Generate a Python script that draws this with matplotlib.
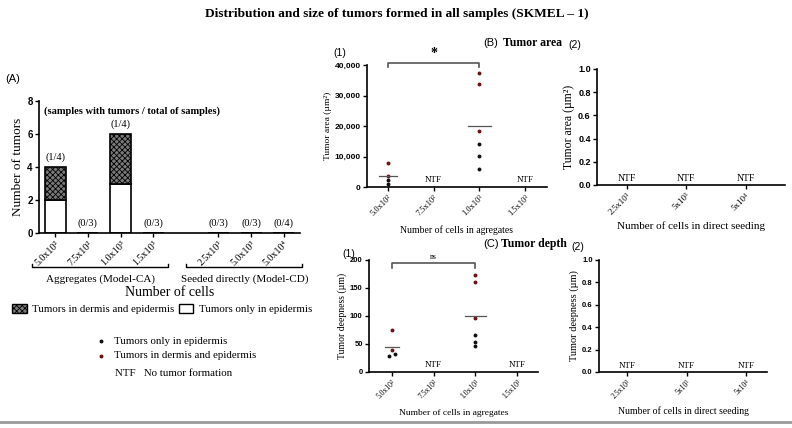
import numpy as np
import matplotlib
matplotlib.use("Agg")
import matplotlib.pyplot as plt
from matplotlib.patches import Rectangle
from matplotlib.lines import Line2D
from matplotlib.transforms import Affine2D

plt.rcParams['font.family'] = ['Liberation Serif', 'DejaVu Serif']
plt.rcParams['hatch.linewidth'] = 0.6

W, H = 792, 428

# ---------------- data ----------------
a_categories = ['5.0x10²', '7.5x10²', '1.0x10³', '1.5x10³', '2.5x10³', '5.0x10³', '5.0x10⁴']
a_epidermis_only = [2, 0, 3, 0, 0, 0, 0]
a_dermis_epidermis = [2, 0, 3, 0, 0, 0, 0]
a_ratio_labels = ['(1/4)', '(0/3)', '(1/4)', '(0/3)', '(0/3)', '(0/3)', '(0/4)']

agg_categories = ['5.0x10²', '7.5x10²', '1.0x10³', '1.5x10³']
direct_categories = ['2.5x10³', '5x10³', '5x10⁴']

# tumor area (um^2), aggregates
area_500_dermis = [7900, 3600]
area_500_epi = [2200, 900]
area_1000_dermis = [37300, 33800, 18400]
area_1000_epi = [14000, 10300, 6000]

# tumor depth (um), aggregates
depth_500_dermis = [75, 40]
depth_500_epi = [29, 33]
depth_1000_dermis = [174, 160, 97]
depth_1000_epi = [66, 54, 46]

agg_ntf = [False, True, False, True]

RED = '#6b1414'
BLACK = '#111111'
MS = 1.8

fig = plt.figure(figsize=(W / 100, H / 100), dpi=100)
px = Affine2D().scale(1 / W, -1 / H).translate(0, 1) + fig.transFigure


def rect(l, t, r, b):
    return [l / W, 1 - b / H, (r - l) / W, (b - t) / H]


def style_axes(ax, ytick_size=6):
    for s in ['top', 'right']:
        ax.spines[s].set_visible(False)
    for s in ['left', 'bottom']:
        ax.spines[s].set_linewidth(1.2)
    ax.tick_params(direction='out', length=3, width=1.0, pad=1.5)
    for lab in ax.get_yticklabels():
        lab.set_fontfamily(['Liberation Sans', 'DejaVu Sans'])
        lab.set_fontweight('bold')
        lab.set_fontsize(ytick_size)


# ---------------- Title ----------------
fig.text(397 / W, 1 - 14 / H, 'Distribution and size of tumors formed in all samples (SKMEL – 1)',
         ha='center', va='center', fontsize=9.6, fontweight='bold')

# ---------------- Panel A ----------------
axA = fig.add_axes(rect(39, 101, 300, 233))
a_pos = [0, 1, 2, 3, 5, 6, 7]
axA.bar(a_pos, a_epidermis_only, width=0.64, color='white', edgecolor='black', linewidth=1.2)
axA.bar(a_pos, a_dermis_epidermis, width=0.64, bottom=a_epidermis_only, color='#7a7a7a',
        edgecolor='black', hatch='xxxxxx', linewidth=1.2)
for p, e, d, lab in zip(a_pos, a_epidermis_only, a_dermis_epidermis, a_ratio_labels):
    axA.text(p, e + d + 0.3, lab, ha='center', va='bottom', fontsize=7.5)
axA.set_xlim(-0.5, 7.5)
axA.set_ylim(0, 8)
axA.set_yticks([0, 2, 4, 6, 8])
axA.set_xticks(a_pos)
axA.set_xticklabels(a_categories, rotation=45, ha='right', rotation_mode='anchor', fontsize=7.2)
axA.set_ylabel('Number of tumors', fontsize=9.5, labelpad=2)
style_axes(axA, 7)
axA.text(0.02, 0.96, '(samples with tumors / total of samples)', transform=axA.transAxes,
         ha='left', va='top', fontsize=7.5, fontweight='bold')
fig.text(5 / W, 1 - 79 / H, '(A)', ha='left', va='center', fontsize=8,
         family=['Liberation Sans', 'DejaVu Sans'])

# brackets under panel A
for (x0, x1, lab, xc) in [(32, 168, 'Aggregates (Model-CA)', 100),
                          (186, 302, 'Seeded directly (Model-CD)', 245)]:
    fig.add_artist(Line2D([x0, x0, x1, x1], [264, 267, 267, 264], transform=px,
                          color='black', lw=1.0))
    fig.text(xc / W, 1 - 279 / H, lab, ha='center', va='center', fontsize=8)
fig.text(170 / W, 1 - 293 / H, 'Number of cells', ha='center', va='center', fontsize=10)

# legend 1
fig.add_artist(Rectangle((12, 304), 15, 9, transform=px, facecolor='#7a7a7a',
                         edgecolor='black', hatch='xxxxxx', lw=1.0))
fig.text(32 / W, 1 - 309 / H, 'Tumors in dermis and epidermis', ha='left', va='center', fontsize=7.8)
fig.add_artist(Rectangle((179, 304), 14, 9, transform=px, facecolor='white',
                         edgecolor='black', lw=1.0))
fig.text(199 / W, 1 - 309 / H, 'Tumors only in epidermis', ha='left', va='center', fontsize=7.8)

# legend 2
fig.add_artist(Line2D([101], [341], transform=px, marker='o', ms=MS, color=BLACK, ls='none'))
fig.text(114 / W, 1 - 341 / H, 'Tumors only in epidermis', ha='left', va='center', fontsize=7.8)
fig.add_artist(Line2D([101], [356], transform=px, marker='o', ms=MS, color=RED, ls='none'))
fig.text(114 / W, 1 - 356 / H, 'Tumors in dermis and epidermis', ha='left', va='center', fontsize=7.8)
fig.text(115 / W, 1 - 373 / H, 'NTF   No tumor formation', ha='left', va='center', fontsize=7.8)


def scatter_panel(ax, groups, ymax, yticks, yfmt, ylabel, mean_hw, offsets_epi=None):
    for gi, (derm, epi) in groups.items():
        ax.plot([gi] * len(derm), derm, 'o', ms=MS, color=RED, ls='none', clip_on=False)
        if offsets_epi is not None and gi in offsets_epi:
            xs = [gi + o for o in offsets_epi[gi]]
        else:
            xs = [gi] * len(epi)
        ax.plot(xs, epi, 'o', ms=MS, color=BLACK, ls='none', clip_on=False)
        m = np.mean(list(derm) + list(epi))
        ax.plot([gi - mean_hw[gi], gi + mean_hw[gi]], [m, m], color='#555555', lw=0.9)
    ax.set_ylim(0, ymax)
    ax.set_yticks(yticks)
    ax.set_yticklabels([yfmt(v) for v in yticks])
    ax.set_ylabel(ylabel, fontsize=6.8, labelpad=2)


# ---------------- Panel B1 ----------------
axB1 = fig.add_axes(rect(367, 65, 547, 187))
scatter_panel(axB1, {0: (area_500_dermis, area_500_epi), 2: (area_1000_dermis, area_1000_epi)},
              40000, [0, 10000, 20000, 30000, 40000], lambda v: f'{v:,}',
              'Tumor area (µm²)', {0: 0.2, 2: 0.25})
axB1.set_xlim(-0.46, 3.48)
axB1.set_xticks(range(len(agg_categories)))
axB1.set_xticklabels(agg_categories, rotation=45, ha='right', rotation_mode='anchor', fontsize=6)
for i, n in enumerate(agg_ntf):
    if n:
        axB1.text(i, 900, 'NTF', ha='center', va='bottom', fontsize=6.5)
style_axes(axB1, 6)
axB1.set_xlabel('Number of cells in agregates', fontsize=7, labelpad=6)
axB1.plot([0, 0, 2, 2], [39200, 40800, 40800, 39200], color='#555555', lw=1.2, clip_on=False)
axB1.text(1, 41800, '*', ha='center', va='bottom', fontsize=10, fontweight='bold')
fig.text(333 / W, 1 - 53 / H, '(1)', ha='left', va='center', fontsize=7.5,
         family=['Liberation Sans', 'DejaVu Sans'])
fig.text(483 / W, 1 - 43 / H, '(B)', ha='left', va='center', fontsize=8,
         family=['Liberation Sans', 'DejaVu Sans'])
fig.text(503 / W, 1 - 43 / H, 'Tumor area', ha='left', va='center', fontsize=8.5, fontweight='bold')

# ---------------- Panel B2 ----------------
axB2 = fig.add_axes(rect(597, 69, 785, 185))
axB2.set_xlim(-0.5, 2.66)
axB2.set_ylim(0, 1)
axB2.set_yticks([0, 0.2, 0.4, 0.6, 0.8, 1.0])
axB2.set_yticklabels([f'{v:.1f}' for v in [0, 0.2, 0.4, 0.6, 0.8, 1.0]])
axB2.set_xticks(range(len(direct_categories)))
axB2.set_xticklabels(direct_categories, rotation=45, ha='right', rotation_mode='anchor', fontsize=6.5)
for i in range(len(direct_categories)):
    axB2.text(i, 0.02, 'NTF', ha='center', va='bottom', fontsize=7)
style_axes(axB2, 6.5)
axB2.set_ylabel('Tumor area (µm²)', fontsize=8.5, labelpad=2)
axB2.set_xlabel('Number of cells in direct seeding', fontsize=8, labelpad=4)
fig.text(568 / W, 1 - 45 / H, '(2)', ha='left', va='center', fontsize=7.5,
         family=['Liberation Sans', 'DejaVu Sans'])

# ---------------- Panel C1 ----------------
axC1 = fig.add_axes(rect(369, 260, 538, 372))
scatter_panel(axC1, {0: (depth_500_dermis, depth_500_epi), 2: (depth_1000_dermis, depth_1000_epi)},
              200, [0, 50, 100, 150, 200], lambda v: f'{v}',
              'Tumor deepness (µm)', {0: 0.16, 2: 0.25}, offsets_epi={0: [-0.07, 0.08]})
axC1.set_xlim(-0.55, 3.5)
axC1.set_xticks(range(len(agg_categories)))
axC1.set_xticklabels(agg_categories, rotation=45, ha='right', rotation_mode='anchor', fontsize=5.5)
for i, n in enumerate(agg_ntf):
    if n:
        axC1.text(i, 6, 'NTF', ha='center', va='bottom', fontsize=6.5)
style_axes(axC1, 5.5)
axC1.set_ylabel('Tumor deepness (µm)', fontsize=7, labelpad=2)
axC1.set_xlabel('Number of cells in agregates', fontsize=6.8, labelpad=6)
axC1.plot([0, 0, 2, 2], [185, 195, 195, 185], color='#555555', lw=1.2, clip_on=False)
axC1.text(1, 199, 'ns', ha='center', va='bottom', fontsize=5.5)
fig.text(342 / W, 1 - 254 / H, '(1)', ha='left', va='center', fontsize=7.5,
         family=['Liberation Sans', 'DejaVu Sans'])
fig.text(483 / W, 1 - 244 / H, '(C)', ha='left', va='center', fontsize=8,
         family=['Liberation Sans', 'DejaVu Sans'])
fig.text(501 / W, 1 - 244 / H, 'Tumor depth', ha='left', va='center', fontsize=8.5, fontweight='bold')

# ---------------- Panel C2 ----------------
axC2 = fig.add_axes(rect(599, 260, 767, 372))
axC2.set_xlim(-0.47, 2.35)
axC2.set_ylim(0, 1)
axC2.set_yticks([0, 0.2, 0.4, 0.6, 0.8, 1.0])
axC2.set_yticklabels([f'{v:.1f}' for v in [0, 0.2, 0.4, 0.6, 0.8, 1.0]])
axC2.set_xticks(range(len(direct_categories)))
axC2.set_xticklabels(direct_categories, rotation=45, ha='right', rotation_mode='anchor', fontsize=5.5)
for i in range(len(direct_categories)):
    axC2.text(i, 0.02, 'NTF', ha='center', va='bottom', fontsize=6.5)
style_axes(axC2, 5.5)
axC2.set_ylabel('Tumor deepness (µm)', fontsize=7.5, labelpad=2)
axC2.set_xlabel('Number of cells in direct seeding', fontsize=7, labelpad=4)
fig.text(571 / W, 1 - 247 / H, '(2)', ha='left', va='center', fontsize=7.5,
         family=['Liberation Sans', 'DejaVu Sans'])

# bottom grey rule
fig.add_artist(Line2D([0, W], [422, 422], transform=px, color='#9a9a9a', lw=2))

fig.savefig('out.png', dpi=100)
